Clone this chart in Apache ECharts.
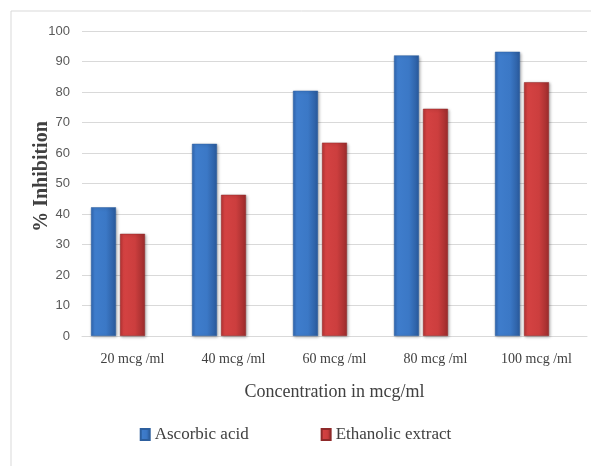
<!DOCTYPE html>
<html><head><meta charset="utf-8">
<script src="https://cdn.jsdelivr.net/npm/echarts@6/dist/echarts.min.js"></script>
<style>html,body{margin:0;padding:0;background:#fff}#c{width:591px;height:466px}</style>
</head><body><div id="c"></div>
<script>
const categories = ['20 mcg /ml','40 mcg /ml','60 mcg /ml','80 mcg /ml','100 mcg /ml'];
const ascorbic = [42.2, 63, 80.4, 92, 93.2];
const ethanolic = [33.5, 46.3, 63.4, 74.5, 83.2];
const emptySeries = [null, null, null, null, null];
const yTicks = {min: 0, max: 100, interval: 10};

const chart = echarts.init(document.getElementById('c'));
const blueGrad = new echarts.graphic.LinearGradient(0,0,1,0,[
  {offset:0,color:'#3168b4'},{offset:0.15,color:'#3f7dcc'},{offset:0.6,color:'#3b78c6'},{offset:1,color:'#2a5a9c'}]);
const redGrad = new echarts.graphic.LinearGradient(0,0,1,0,[
  {offset:0,color:'#b83434'},{offset:0.15,color:'#d44242'},{offset:0.6,color:'#cc3e3e'},{offset:1,color:'#9c2c2c'}]);
const serif = "'Liberation Serif','Times New Roman',serif";
chart.setOption({
  animation: false,
  graphic: [{type:'rect', shape:{x:11,y:11,width:600,height:480}, style:{fill:'none',stroke:'#d9d9d9',lineWidth:1}, z:-1}],
  grid: {left: 82, right: 4, top: 31, bottom: 130},
  legend: {
    data: ['Ascorbic acid','Ethanolic extract'],
    bottom: 18, left: 'center', itemGap: 72, itemWidth: 9, itemHeight: 11,
    textStyle: {fontFamily: serif, fontSize: 17, color: '#404040'},
    icon: 'rect'
  },
  xAxis: {
    type: 'category', data: categories,
    name: 'Concentration in mcg/ml', nameLocation: 'middle', nameGap: 47,
    nameTextStyle: {fontFamily: serif, fontSize: 18, color: '#404040'},
    axisLine: {lineStyle: {color: '#d9d9d9'}}, axisTick: {show: false},
    axisLabel: {fontFamily: serif, fontSize: 14, color: '#404040', margin: 16}
  },
  yAxis: {
    type: 'value', min: yTicks.min, max: yTicks.max, interval: yTicks.interval,
    name: '% Inhibition', nameLocation: 'middle', nameGap: 30, nameMoveOverlap: false,
    nameTextStyle: {fontFamily: serif, fontSize: 20, fontWeight: 'bold', color: '#404040', padding: [0,0,0,14]},
    axisLabel: {fontFamily: "'Liberation Sans Narrow','Liberation Sans',sans-serif", fontSize: 13, color: '#595959', margin: 12},
    splitLine: {lineStyle: {color: '#d9d9d9'}}, axisLine: {show: false}, axisTick: {show: false}
  },
  series: [
    {name: 'Ascorbic acid', type: 'bar', data: ascorbic, barWidth: 25, barGap: '16%',
     itemStyle: {color: blueGrad, borderColor: '#2d5f9e', borderWidth: 0.5, shadowColor: 'rgba(0,0,0,0.3)', shadowBlur: 3, shadowOffsetX: 1, shadowOffsetY: 1}},
    {name: 'Ethanolic extract', type: 'bar', data: ethanolic, barWidth: 25, barGap: '16%',
     itemStyle: {color: redGrad, borderColor: '#8f2a2a', borderWidth: 0.5, shadowColor: 'rgba(0,0,0,0.3)', shadowBlur: 3, shadowOffsetX: 1, shadowOffsetY: 1}},
    {name: '', type: 'bar', data: emptySeries, barWidth: 25, barGap: '16%'}
  ]
});
</script></body></html>
